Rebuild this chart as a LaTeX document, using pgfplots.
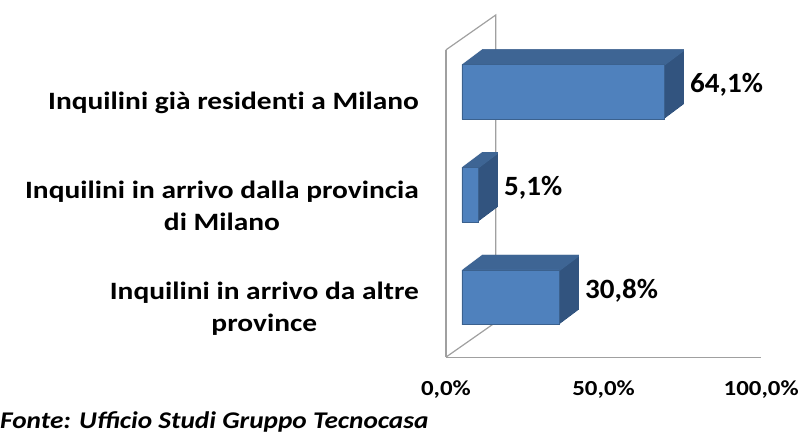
\documentclass[border=0pt]{standalone}
\usepackage{pgfplots}
\pgfplotsset{compat=1.18}
\usepackage{pgfplotstable}
\usepackage{fontspec}
\setmainfont{Carlito}
\newfontfamily\catfont[FakeStretch=1.18,Ligatures=NoCommon]{Carlito}
\newfontfamily\tickfont[FakeStretch=1.16]{Carlito}
\newfontfamily\srcfont[FakeStretch=1.14]{Carlito}
\newfontfamily\valfont[FakeStretch=1.04]{Carlito}
\definecolor{barfront}{HTML}{4F81BD}
\definecolor{bartop}{HTML}{3E6594}
\definecolor{barside}{HTML}{32547F}
\definecolor{wall}{HTML}{A0A0A0}
\pgfplotstableread{
y v
0 30.8
1 5.1
2 64.1
}\datatable
\begin{document}
\begin{tikzpicture}
\begin{axis}[
  set layers,
  at={(0,0)}, anchor=south west,
  scale only axis, width=316pt, height=308pt,
  xmin=0, xmax=100, ymin=-0.475, ymax=2.515,
  clip=false,
  axis x line*=bottom, axis y line*=left,
  axis line style={wall, line width=1.2pt},
  xtick={0,50,100},
  xticklabels={{0,0\%},{50,0\%},{100,0\%}},
  ytick={0,1,2},
  yticklabels={{Inquilini in arrivo da altre\\province},{Inquilini in arrivo dalla provincia\\di Milano},{Inquilini già residenti a Milano}},
  major tick length=0pt,
  tick style={draw=none},
  xticklabel style={anchor=base, yshift=-38pt, font=\tickfont\bfseries\fontsize{21.5}{26}\selectfont},
  yticklabel style={anchor=east, inner sep=0pt, xshift=-27pt, align=center, font=\catfont\bfseries\fontsize{25}{32}\selectfont},
  /pgf/number format/assume math mode=true,
]
\begin{pgfonlayer}{axis background}
\draw[wall, line width=1.2pt] (rel axis cs:0,1) -- ++(50pt,35pt) -- ++(0pt,-308pt) -- (rel axis cs:0,0);
\end{pgfonlayer}
% side extrusion
\pgfplotsinvokeforeach{20,19,...,1}{
  \addplot[xbar, bar width=55pt, bar shift=0pt, fill=barside, draw=none, xshift=16pt+#1*1pt, yshift=11pt+#1*0.75pt] table[x=v,y=y]{\datatable};
}
% top extrusion
\pgfplotsinvokeforeach{20,19,...,1}{
  \addplot[xbar, bar width=2pt, bar shift=26.5pt, fill=bartop, draw=none, xshift=16pt+#1*1pt, yshift=11pt+#1*0.75pt] table[x=v,y=y]{\datatable};
}
% front face
\addplot[xbar, bar width=55pt, bar shift=0pt, fill=barfront, draw=barfront!75!black, line width=0.6pt, xshift=16pt, yshift=11pt] table[x=v,y=y]{\datatable};
% labels
\addplot[draw=none, point meta=x,
  nodes near coords={\pgfmathprintnumber[fixed,fixed zerofill,precision=1,use comma]{\pgfplotspointmeta}\%},
  nodes near coords style={anchor=west, inner sep=0pt, xshift=42pt, yshift=18pt, font=\valfont\bfseries\fontsize{28}{32}\selectfont}]
  table[x=v,y=y]{\datatable};
\end{axis}
\node[anchor=base west, inner sep=0pt, font=\srcfont\bfseries\itshape\fontsize{24}{28}\selectfont] at (-447pt,-72pt) {Fonte: Ufficio Studi Gruppo Tecnocasa};
\path[use as bounding box] (-447pt,-81pt) rectangle (355pt,358pt);
\end{tikzpicture}
\end{document}
